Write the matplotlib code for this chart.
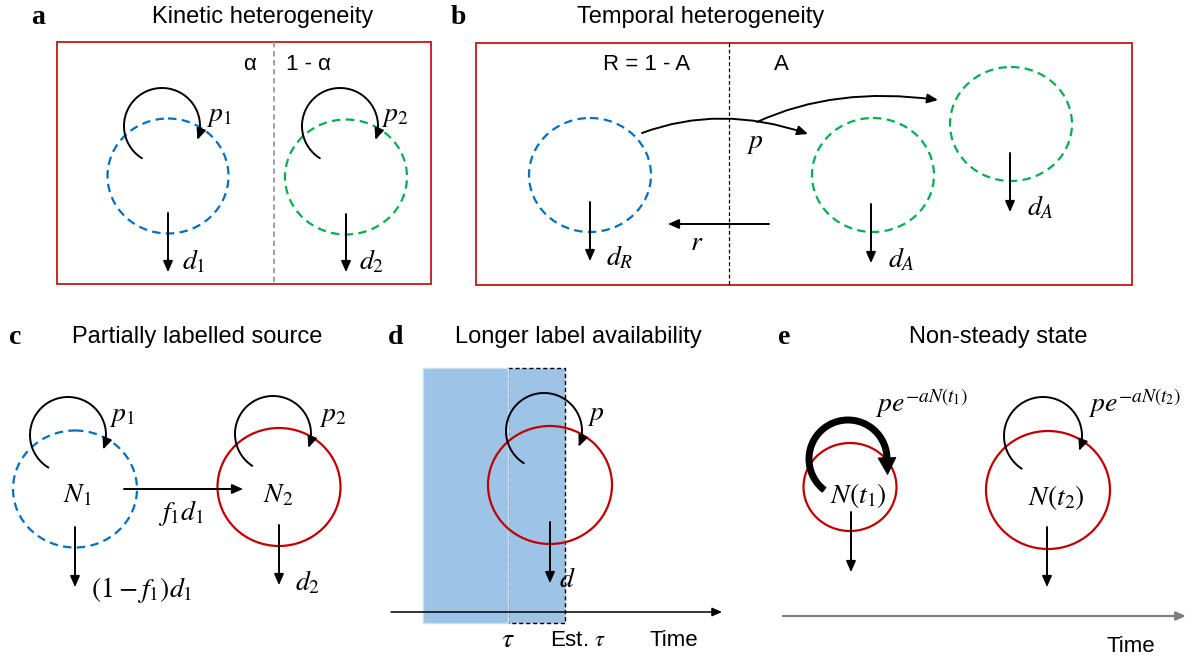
import numpy as np
import matplotlib
matplotlib.use("Agg")
import matplotlib.pyplot as plt
from matplotlib.patches import Ellipse, Rectangle, FancyArrowPatch, Polygon
from matplotlib.path import Path

plt.rcParams['font.family'] = ['Liberation Sans', 'DejaVu Sans']
plt.rcParams['mathtext.fontset'] = 'stix'

BLUE = '#0070C0'
GREEN = '#00B050'
RED = '#C00000'
BOX_RED = '#C62828'
SHADE = '#9DC3E6'

# panel letters and headings
letters = ['a', 'b', 'c', 'd', 'e']
letter_xy = [(38, 17), (458, 17), (15, 337), (396, 337), (784, 337)]
titles = ['Kinetic heterogeneity', 'Temporal heterogeneity',
          'Partially labelled source', 'Longer label availability',
          'Non-steady state']
title_xy = [(263, 17), (701, 17), (197, 337), (578, 337), (998, 337)]

# framed boxes (x0, y0, x1, y1) with the dividing line inside each
boxes = [(57, 42, 431, 284), (476, 43, 1132, 285)]
split_x = [274, 729]
split_col = ['#9A9A9A', 'k']
split_lw = [1.3, 0.9]
box_text = [(249, 65, 'α'), (308, 65, '1 - α'), (647, 64, 'R = 1 - A'), (781, 64, 'A')]

# compartments: centre x, centre y, width, height, colour, dashed?
circles = [
    (168, 176, 121, 115, BLUE, True),
    (346, 177, 122, 115, GREEN, True),
    (590, 175, 122, 114, BLUE, True),
    (873, 175, 122, 114, GREEN, True),
    (1011, 124, 122, 114, GREEN, True),
    (75, 489, 124, 117, BLUE, True),
    (279, 487, 123, 118, RED, False),
    (550, 485, 124, 118, RED, False),
    (850, 487, 93, 88, RED, False),
    (1048, 490, 124, 118, RED, False),
]

# self-renewal loops: centre x, centre y, radius, start angle, end angle
loops = [
    (162, 126, 38, 238, -21),
    (340, 126, 38, 238, -21),
    (68, 435, 38, 239, -22),
    (273, 434, 38, 237, -21),
    (544, 431, 38, 238, -24),
    (1043, 436, 39, 237, -22),
]
# the strong loop in e (heavier line, big head starting at end angle)
strong_loop = (848, 459, 39, 233, 2)

# straight fluxes (start, end)
arrows = [
    ((168, 213), (168, 272)),
    ((346, 214), (346, 272)),
    ((590, 202), (590, 261)),
    ((871, 204), (871, 263)),
    ((1010, 153), (1010, 212)),
    ((769, 224), (668, 224)),
    ((75, 527), (75, 587)),
    ((279, 525), (279, 585)),
    ((124, 489), (243, 489)),
    ((550, 522), (550, 583)),
    ((851, 512), (851, 572)),
    ((1047, 527), (1047, 587)),
]

# activation transitions in b (quadratic curves: start, control, end)
transfers = [
    [(642, 133), (720, 104), (808, 134)],
    [(757, 122), (835, 86), (938, 100)],
]

# time axes in d and e
time_axes = [((391, 612), (722, 612), 'k', 1.1), ((783, 616), (1186, 616), '#808080', 1.6)]

# label window in d: (x0, x1, y0, y1)
shade_true = (423, 508, 368, 623)
shade_est = (508, 565, 368, 623)

# symbols
math_labels = [
    (219, 116, r'$p_1$'), (194, 262, r'$d_1$'),
    (395, 116, r'$p_2$'), (372, 262, r'$d_2$'),
    (755, 143, r'$p$'), (697, 243, r'$r$'), (620, 258, r'$d_R$'),
    (901, 260, r'$d_A$'), (1040, 208, r'$d_A$'),
    (122, 416, r'$p_1$'), (77, 495, r'$N_1$'), (181, 513, r'$f_1d_1$'),
    (142, 590, r'$(1-f_1)d_1$'), (278, 495, r'$N_2$'), (333, 416, r'$p_2$'),
    (308, 583, r'$d_2$'),
    (596, 415, r'$p$'), (567, 580, r'$d$'), (508, 640, r'$\tau$'),
    (922, 403, r'$pe^{-aN(t_1)}$'), (858, 495, r'$N(t_1)$'),
    (1135, 403, r'$pe^{-aN(t_2)}$'), (1056, 497, r'$N(t_2)$'),
]
plain_labels = [(578, 640, r'Est. $\tau$'), (674, 640, 'Time'), (1131, 647, 'Time')]

fig = plt.figure(figsize=(12, 6.62), dpi=100)
ax = fig.add_axes([0, 0, 1, 1])
ax.set_xlim(0, 1200)
ax.set_ylim(662, 0)
ax.axis('off')

for s, (x, y) in zip(letters, letter_xy):
    ax.text(x, y, s, family='Liberation Serif', weight='bold', fontsize=20,
            ha='center', va='center')
for s, (x, y) in zip(titles, title_xy):
    ax.text(x, y, s, fontsize=17, ha='center', va='center')

for (x0, y0, x1, y1), sx, c, lw in zip(boxes, split_x, split_col, split_lw):
    ax.add_patch(Rectangle((x0, y0), x1 - x0, y1 - y0, fill=False,
                           edgecolor=BOX_RED, lw=1.4))
    ax.plot([sx, sx], [y0, y1], color=c, lw=lw, ls=(0, (3, 2)))
for x, y, s in box_text:
    ax.text(x, y, s, fontsize=16, ha='center', va='center')

# shaded windows go underneath the compartment in d
x0, x1, y0, y1 = shade_est
ax.add_patch(Rectangle((x0, y0), x1 - x0, y1 - y0, facecolor=SHADE,
                       edgecolor='k', lw=1.0, ls=(0, (3, 2))))
x0, x1, y0, y1 = shade_true
ax.add_patch(Rectangle((x0, y0), x1 - x0, y1 - y0, facecolor=SHADE,
                       edgecolor='#C9DDF0', lw=1.0))

for cx, cy, w, h, c, dashed in circles:
    ax.add_patch(Ellipse((cx, cy), w, h, fill=False, edgecolor=c, lw=1.6,
                         ls=(0, (3.8, 2.4)) if dashed else '-'))


def arrow(path, lw=1.4, head=(0.45, 0.2), ms=14, color='k'):
    style = '-|>,head_length=%g,head_width=%g' % head
    ax.add_patch(FancyArrowPatch(path=path, arrowstyle=style, mutation_scale=ms,
                                 lw=lw, color=color, transform=ax.transData))


def arc_points(cx, cy, r, t0, t1, n=90):
    t = np.radians(np.linspace(t0, t1, n))
    return np.column_stack([cx + r * np.cos(t), cy - r * np.sin(t)])


for cx, cy, r, t0, t1 in loops:
    arrow(Path(arc_points(cx, cy, r, t0, t1)))

# heavy loop: thick stroke plus a filled wedge along the tangent
cx, cy, r, t0, t1 = strong_loop
pts = arc_points(cx, cy, r, t0, t1)
ax.plot(pts[:, 0], pts[:, 1], color='k', lw=5, solid_capstyle='butt')
te = np.radians(t1)
end = pts[-1]
tang = np.array([np.sin(te), np.cos(te)])
perp = np.array([-tang[1], tang[0]])
ax.add_patch(Polygon([end + 9 * perp, end + 17 * tang, end - 9 * perp],
                     closed=True, facecolor='k', edgecolor='k', lw=0.5))

for a, b in arrows:
    arrow(Path([a, b]))

for p in transfers:
    arrow(Path(p, [Path.MOVETO, Path.CURVE3, Path.CURVE3]))

for a, b, c, lw in time_axes:
    arrow(Path([a, b]), lw=lw, color=c, head=(0.45, 0.2), ms=13)

for x, y, s in math_labels:
    ax.text(x, y, s, fontsize=20, ha='center', va='center')
for x, y, s in plain_labels:
    ax.text(x, y, s, fontsize=16, ha='center', va='center')

fig.savefig('out.png', dpi=100)
